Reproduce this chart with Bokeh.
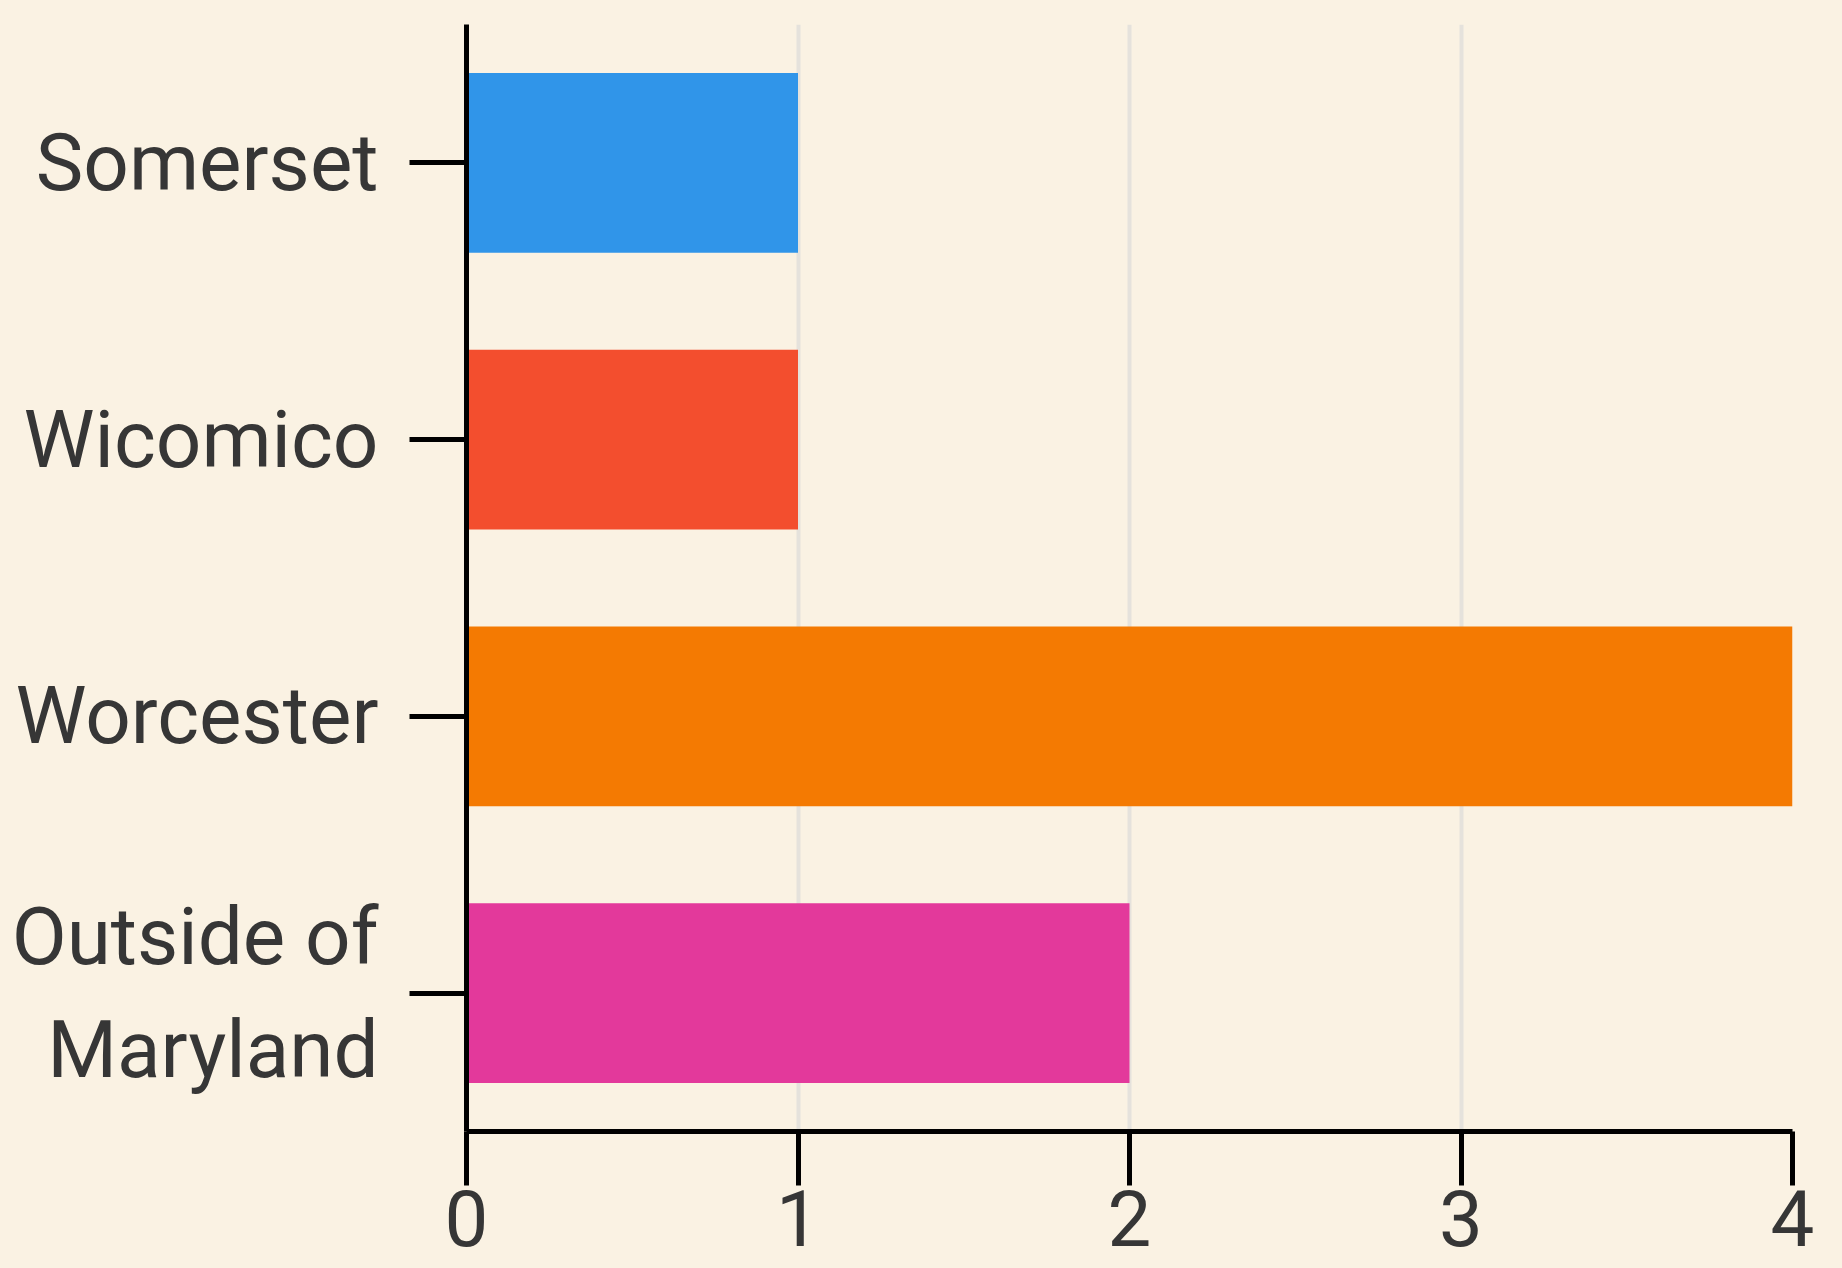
from bokeh.plotting import figure
from bokeh.models import Range1d, FactorRange, FixedTicker, ColumnDataSource
from bokeh.embed import file_html
from bokeh.resources import INLINE

categories = ["Somerset", "Wicomico", "Worcester", "Outside of\nMaryland"]
values = [1, 1, 4, 2]
colors = ["#3095e9", "#f34e2e", "#f47a02", "#e3399b"]
x_ticks = [0, 1, 2, 3, 4]

bg = "#faf2e3"
FONT = "Roboto"

src = ColumnDataSource(dict(cat=categories, val=values, color=colors))

p = figure(width=1842, height=1268, output_backend="svg", toolbar_location=None,
           x_range=Range1d(0, 4),
           y_range=FactorRange(factors=list(reversed(categories)), range_padding=0),
           min_border_left=466, min_border_right=50, min_border_top=24, min_border_bottom=137)

p.hbar(y="cat", left=0, right="val", height=0.65, fill_color="color", line_color=None, source=src)

p.background_fill_color = bg
p.border_fill_color = bg
p.outline_line_color = None

p.ygrid.visible = False
p.xgrid.grid_line_color = "#e5e2dc"
p.xgrid.grid_line_width = 4
p.xaxis.ticker = FixedTicker(ticks=x_ticks)

for ax in (p.xaxis[0], p.yaxis[0]):
    ax.axis_line_color = "black"
    ax.axis_line_width = 5
    ax.major_tick_line_color = "black"
    ax.major_tick_line_width = 5
    ax.major_tick_in = 0
    ax.minor_tick_out = 0
    ax.minor_tick_in = 0
    ax.major_label_text_font = FONT
    ax.major_label_text_color = "#363636"

p.yaxis.major_label_text_font_size = "80px"
p.xaxis.major_label_text_font_size = "78px"
p.xaxis.major_tick_out = 54
p.xaxis.major_label_standoff = 4
p.yaxis.major_tick_out = 57
p.yaxis.major_label_standoff = 31

html = file_html(p, INLINE)
html = html.replace("<head>", "<head><style>body{background:%s;}</style>" % bg, 1)
open("out.html", "w").write(html)
